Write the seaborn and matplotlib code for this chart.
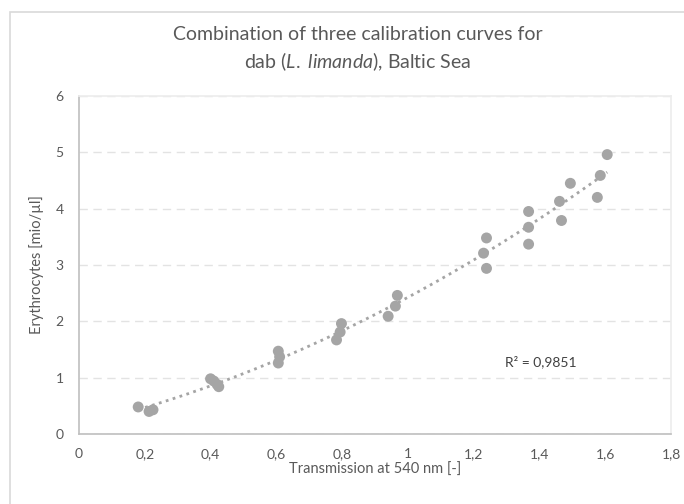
import matplotlib
matplotlib.use("Agg")
import matplotlib.pyplot as plt
import numpy as np
import pandas as pd
import seaborn as sns
from matplotlib.patches import Rectangle
from matplotlib.ticker import FuncFormatter, MultipleLocator

# transmission at 540 nm vs. erythrocyte count
transmission = [0.18, 0.213, 0.225,
                0.40, 0.41, 0.42, 0.425,
                0.606, 0.61, 0.606,
                0.798, 0.794, 0.783,
                0.968, 0.962, 0.94,
                1.239, 1.230, 1.239,
                1.367, 1.367, 1.367,
                1.461, 1.467, 1.494,
                1.576, 1.585, 1.606]
erythrocytes = [0.48, 0.40, 0.43,
                0.98, 0.94, 0.88, 0.84,
                1.47, 1.37, 1.26,
                1.96, 1.81, 1.67,
                2.46, 2.27, 2.09,
                3.48, 3.21, 2.94,
                3.95, 3.67, 3.37,
                4.13, 3.79, 4.45,
                4.20, 4.59, 4.96]
r2_label = "R² = 0,9851"

GRAY = "#595959"
MARK = "#A5A5A5"

df = pd.DataFrame({"x": transmission, "y": erythrocytes})

sns.set_theme(style="white")
plt.rcParams["font.family"] = ["Lato", "DejaVu Sans"]
plt.rcParams["mathtext.fontset"] = "custom"
plt.rcParams["mathtext.it"] = "Lato:italic"
plt.rcParams["mathtext.rm"] = "Lato"

fig = plt.figure(figsize=(6.84, 5.04), dpi=100)
ax = fig.add_axes([79 / 684, 1 - 434 / 504, (671 - 79) / 684, (434 - 96) / 504])

# chart area border (Excel-like)
fig.patches.append(Rectangle((10 / 684, -0.1), 1.2, 1 - 12 / 504 + 0.1,
                             transform=fig.transFigure, fill=False,
                             edgecolor="#D9D9D9", linewidth=1.2))

sns.scatterplot(data=df, x="x", y="y", ax=ax, color=MARK, s=62,
                edgecolor="none", zorder=3)

# polynomial trend line (order 2)
coef = np.polyfit(df["x"], df["y"], 2)
xs = np.linspace(df["x"].min(), df["x"].max(), 200)
ax.plot(xs, np.polyval(coef, xs), color=MARK, linestyle=(0, (1, 1.6)),
        linewidth=2, zorder=2)

ax.set_xlim(0, 1.8)
ax.set_ylim(0, 6)
ax.xaxis.set_major_locator(MultipleLocator(0.2))
ax.yaxis.set_major_locator(MultipleLocator(1))
fmt = FuncFormatter(lambda v, p: f"{v:.1f}".rstrip("0").rstrip(".").replace(".", ","))
ax.xaxis.set_major_formatter(fmt)
ax.yaxis.set_major_formatter(fmt)
ax.tick_params(axis="x", length=0, labelsize=10, labelcolor=GRAY, pad=10)
ax.tick_params(axis="y", length=0, labelsize=10, labelcolor=GRAY, pad=11)

ax.grid(axis="y", color="#E3E3E3", linestyle=(0, (6, 4)), linewidth=1)
ax.set_axisbelow(True)
for side in ["top", "right"]:
    ax.spines[side].set_color("#EDEDED")
for side in ["left", "bottom"]:
    ax.spines[side].set_color("#BFBFBF")
    ax.spines[side].set_linewidth(1.2)

ax.set_xlabel("Transmission at 540 nm [-]", fontsize=10.5, color=GRAY, labelpad=2)
ax.set_ylabel("Erythrocytes [mio/µl]", fontsize=10.5, color=GRAY, labelpad=8)

fig.text(0.523, 1 - 35 / 504, "Combination of three calibration curves for",
         ha="center", va="center", fontsize=14, color=GRAY)
fig.text(0.523, 1 - 62 / 504, r"dab ($\mathit{L.}$ $\mathit{limanda}$), Baltic Sea",
         ha="center", va="center", fontsize=14, color=GRAY)

ax.text(1.405, 1.28, r2_label, ha="center", va="center", fontsize=10, color="#404040")

fig.savefig("out.png", dpi=100)
